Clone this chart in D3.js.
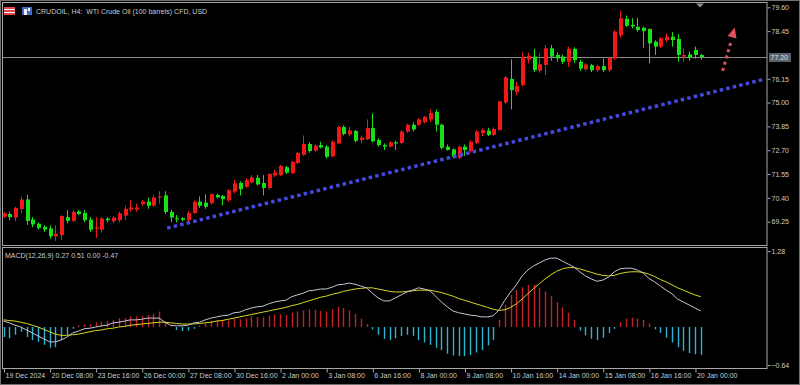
<!DOCTYPE html>
<html>
<head>
<meta charset="utf-8">
<script src="https://cdn.jsdelivr.net/npm/d3@7"></script>
<style>
  html, body { margin: 0; padding: 0; background: #000; }
  svg { display: block; }
  text { font-family: "Liberation Sans", Arial, sans-serif; white-space: pre; }
</style>
</head>
<body>
<svg id="chart" width="800" height="385"></svg>
<script>
// ---- data ----
const title = "CRUDOIL, H4:  WTI Crude Oil (100 barrels) CFD, USD"
const macdTitle = "MACD(12,26,9) 0.27 0.51 0.00 -0.47"

const opens = [69.49,69.62,69.45,69.86,70.32,69.35,69.15,69.00,68.92,68.54,
  68.60,69.47,69.29,69.74,69.67,69.35,68.92,68.86,69.40,69.27,
  69.32,69.54,69.84,69.84,70.10,70.22,70.02,70.42,70.52,69.72,
  69.42,69.42,69.32,69.67,70.22,70.17,70.14,70.54,70.49,70.28,
  70.70,71.12,70.93,71.14,71.37,71.12,70.88,71.48,71.50,71.88,
  71.60,72.08,72.48,73.00,72.68,72.95,72.87,72.41,73.03,73.82,
  73.46,73.63,73.19,73.23,73.77,73.19,72.95,72.88,73.08,73.05,
  73.60,73.93,73.93,74.06,74.18,74.55,73.93,72.87,72.74,72.33,
  72.87,72.66,73.05,73.52,73.65,73.44,73.68,75.00,76.14,75.52,
  75.84,77.08,77.22,76.54,76.82,77.62,77.30,77.22,76.97,77.59,
  76.97,76.61,76.81,76.56,76.76,76.56,77.13,78.25,79.04,78.75,
  78.66,78.61,78.55,77.94,77.70,78.02,78.18,78.07,77.22,77.33,
  77.54,77.30]
const highs = [69.72,69.74,69.97,70.46,70.54,69.48,69.22,69.07,69.07,69.07,
  69.56,69.82,69.82,69.82,69.82,69.48,69.47,69.48,69.47,69.52,
  69.74,70.02,70.29,70.12,70.29,70.42,70.52,70.72,70.72,69.82,
  69.57,69.47,69.77,70.27,70.47,70.57,70.62,70.60,70.54,70.82,
  71.26,71.20,71.35,71.50,71.50,71.50,71.60,71.75,72.00,71.95,
  72.19,72.63,73.41,73.08,72.98,73.11,72.95,73.18,73.88,73.90,
  73.82,73.68,73.41,74.19,74.48,73.28,73.03,73.13,73.16,73.68,
  73.98,74.05,74.26,74.35,74.67,74.67,73.98,72.98,72.79,72.93,
  72.98,73.18,73.68,73.74,73.78,73.80,75.10,76.28,77.09,76.00,
  77.42,77.41,77.59,77.38,77.78,77.78,77.42,77.32,77.70,77.67,
  77.07,76.92,76.87,76.82,77.12,77.22,78.50,79.43,79.20,79.07,
  79.10,78.66,78.58,78.01,78.16,78.34,78.40,78.30,77.62,77.47,
  77.70,77.36]
const lows = [69.42,69.32,69.27,69.67,69.09,68.99,68.87,68.75,68.42,68.32,
  68.37,69.17,69.22,69.57,69.22,68.75,68.47,68.72,69.22,69.17,
  69.22,69.32,69.72,69.72,70.02,69.87,69.97,70.12,69.62,69.22,
  69.22,69.27,69.27,69.62,69.92,69.87,70.07,70.37,70.04,70.20,
  70.61,70.52,70.88,71.10,71.00,70.52,70.80,71.40,71.45,71.55,
  71.55,72.03,72.43,72.58,72.63,72.78,72.30,72.36,72.98,73.41,
  73.36,73.08,73.03,73.19,73.08,72.88,72.71,72.83,72.71,72.98,
  73.53,73.60,73.88,74.00,74.06,73.60,72.74,72.68,72.30,72.28,
  72.43,72.58,73.00,73.38,73.38,73.38,73.63,74.95,74.67,75.36,
  75.78,76.90,76.48,76.44,76.33,77.02,76.97,76.87,76.72,76.92,
  76.52,76.52,76.47,76.47,76.47,76.47,77.07,78.12,78.65,78.58,
  78.42,77.65,76.89,77.30,77.62,77.92,77.70,76.97,76.97,77.02,
  77.12,77.07]
const closes = [69.65,69.47,69.92,70.32,69.29,69.12,68.95,68.87,68.55,68.67,
  69.52,69.29,69.72,69.62,69.32,68.86,68.97,69.40,69.32,69.45,
  69.65,69.87,69.94,69.94,70.22,70.02,70.42,70.47,69.72,69.45,
  69.37,69.34,69.67,70.21,70.02,69.97,70.58,70.42,70.34,70.77,
  71.10,70.82,71.26,71.39,71.05,70.88,71.55,71.62,71.94,71.62,
  72.14,72.57,73.00,72.66,72.92,72.84,72.38,73.11,73.82,73.48,
  73.65,73.15,73.31,73.77,73.13,72.95,72.88,73.08,73.03,73.60,
  73.93,73.70,74.19,74.31,74.50,73.93,72.82,72.71,72.38,72.87,
  72.71,73.11,73.60,73.68,73.44,73.73,75.05,76.22,75.60,75.80,
  77.18,77.25,76.57,76.85,77.62,77.22,77.13,76.97,77.59,77.05,
  76.64,76.84,76.56,76.76,76.56,77.16,78.43,79.07,78.71,78.68,
  78.50,78.45,77.86,77.70,78.10,78.18,78.02,77.30,77.30,77.16,
  77.30,77.20]

const macdMain = [0.10,0.07,0.03,0.00,-0.05,-0.10,-0.15,-0.20,-0.25,-0.25,
  -0.22,-0.17,-0.10,-0.07,-0.03,-0.02,0.00,0.02,0.03,0.07,
  0.08,0.10,0.12,0.12,0.13,0.15,0.15,0.15,0.08,0.03,
  0.02,0.02,0.03,0.07,0.08,0.12,0.15,0.17,0.19,0.20,
  0.24,0.25,0.29,0.32,0.34,0.35,0.39,0.42,0.44,0.45,
  0.51,0.54,0.57,0.61,0.62,0.64,0.64,0.67,0.71,0.72,
  0.74,0.72,0.69,0.66,0.57,0.49,0.44,0.44,0.49,0.54,
  0.59,0.62,0.66,0.64,0.61,0.52,0.42,0.34,0.27,0.24,
  0.22,0.20,0.19,0.17,0.17,0.19,0.29,0.45,0.59,0.71,
  0.86,0.96,1.03,1.08,1.13,1.16,1.16,1.11,1.06,1.01,
  0.93,0.86,0.81,0.77,0.79,0.84,0.93,0.98,0.99,0.99,
  0.96,0.91,0.82,0.76,0.69,0.62,0.56,0.47,0.42,0.37,
  0.32,0.27]
const macdSignal = [0.12,0.11,0.10,0.08,0.06,0.03,0.00,-0.04,-0.08,-0.12,
  -0.14,-0.14,-0.13,-0.12,-0.10,-0.08,-0.06,-0.05,-0.03,-0.02,
  0.00,0.01,0.03,0.04,0.05,0.06,0.07,0.08,0.08,0.07,
  0.06,0.05,0.05,0.05,0.06,0.07,0.08,0.10,0.11,0.13,
  0.15,0.17,0.19,0.21,0.23,0.25,0.27,0.29,0.31,0.33,
  0.36,0.38,0.41,0.44,0.47,0.50,0.52,0.55,0.57,0.60,
  0.62,0.64,0.65,0.66,0.66,0.64,0.62,0.60,0.59,0.59,
  0.60,0.61,0.62,0.62,0.62,0.60,0.58,0.55,0.52,0.48,
  0.45,0.42,0.39,0.36,0.33,0.30,0.28,0.29,0.33,0.39,
  0.47,0.56,0.65,0.73,0.81,0.88,0.94,0.98,1.00,1.00,
  0.98,0.95,0.92,0.89,0.87,0.86,0.87,0.90,0.92,0.93,
  0.93,0.92,0.89,0.85,0.80,0.76,0.71,0.66,0.62,0.58,
  0.54,0.51]
const macdHist = [-0.17,-0.19,-0.13,-0.08,-0.17,-0.22,-0.25,-0.30,-0.35,-0.34,
  -0.22,-0.13,-0.03,0.03,0.05,0.05,0.08,0.09,0.10,0.12,
  0.15,0.15,0.18,0.18,0.19,0.20,0.22,0.26,0.10,0.02,
  -0.05,-0.07,-0.06,-0.03,0.03,0.06,0.10,0.12,0.12,0.11,
  0.14,0.13,0.15,0.18,0.17,0.16,0.19,0.21,0.22,0.20,
  0.24,0.26,0.28,0.30,0.29,0.27,0.26,0.30,0.34,0.32,
  0.28,0.22,0.14,0.05,-0.04,-0.13,-0.20,-0.22,-0.19,-0.15,
  -0.13,-0.15,-0.22,-0.26,-0.30,-0.35,-0.39,-0.45,-0.48,-0.49,
  -0.49,-0.47,-0.43,-0.39,-0.31,-0.22,0.12,0.37,0.54,0.62,
  0.67,0.71,0.71,0.66,0.60,0.52,0.42,0.33,0.24,0.12,
  -0.06,-0.14,-0.20,-0.22,-0.18,-0.10,-0.03,0.08,0.14,0.16,
  0.14,0.12,0.06,-0.04,-0.10,-0.18,-0.26,-0.34,-0.40,-0.44,
  -0.46,-0.47]

const priceTicks = [79.60, 78.45, 76.15, 75.00, 73.85, 72.70, 71.55, 70.40, 69.25]
const macdTicks = [1.28, -0.64]
const timeTickBars = [0, 8, 16, 24, 32, 40, 48, 56, 64, 72, 80, 88, 96, 104, 112, 120]
const timeLabels = ["19 Dec 2024", "20 Dec 08:00", "23 Dec 16:00", "26 Dec 00:00", "27 Dec 08:00",
  "30 Dec 16:00", "2 Jan 00:00", "3 Jan 08:00", "6 Jan 16:00", "8 Jan 00:00", "9 Jan 08:00",
  "10 Jan 16:00", "14 Jan 00:00", "15 Jan 08:00", "16 Jan 16:00", "20 Jan 00:00"]
const lastPrice = 77.20
// drawn objects: support line and arrow, as (bar, price) anchors
const trendPoints = [[28.4, 68.94], [132.2, 76.14]]
const arrowPoints = [[124.8, 76.53], [126.3, 77.99], [126.9, 78.62]]

// ---- layout ----
const width = 800, height = 385
const axisX = 767
const upColor = "#f01818", downColor = "#18e018"
const textColor = "#cccccc"
const fontSize = "7px"

const svg = d3.select("#chart")
svg.append("rect").attr("width", width).attr("height", height).attr("fill", "#000")

const x = d3.scaleLinear().domain([0, 132.5]).range([3.5, axisX])
const y = d3.scaleLinear().domain([68.10, 79.60]).range([245.5, 7.3])
const ym = d3.scaleLinear().domain([-0.64, 1.28]).range([365, 251])

const bars = opens.map((o, i) => ({ i: i, o: o, h: highs[i], l: lows[i], c: closes[i] }))

// clip for the two panels
svg.append("clipPath").attr("id", "mainClip").append("rect")
  .attr("x", 3).attr("y", 3).attr("width", axisX - 3).attr("height", 242)
svg.append("clipPath").attr("id", "macdClip").append("rect")
  .attr("x", 3).attr("y", 248).attr("width", axisX - 3).attr("height", 120)

const main = svg.append("g").attr("clip-path", "url(#mainClip)")

// current price line
main.append("line")
  .attr("x1", 3).attr("x2", axisX)
  .attr("y1", Math.round(y(lastPrice)) + 0.5).attr("y2", Math.round(y(lastPrice)) + 0.5)
  .attr("stroke", "#8a8a8a").attr("stroke-width", 1)

// candles
const candle = main.append("g").attr("class", "candles")
  .selectAll("g")
  .data(bars)
  .join("g")
  .attr("fill", d => d.c >= d.o ? upColor : downColor)
  .attr("stroke", d => d.c >= d.o ? upColor : downColor)

candle.append("line")
  .attr("x1", d => Math.round(x(d.i)) + 0.5)
  .attr("x2", d => Math.round(x(d.i)) + 0.5)
  .attr("y1", d => y(d.h))
  .attr("y2", d => y(d.l))
  .attr("stroke-width", 1)

candle.append("rect")
  .attr("x", d => Math.round(x(d.i)) - 1)
  .attr("width", 4)
  .attr("y", d => y(Math.max(d.o, d.c)))
  .attr("height", d => Math.max(1.2, Math.abs(y(d.o) - y(d.c))))
  .attr("stroke", "none")

// support line (dotted blue)
main.append("line")
  .attr("x1", x(trendPoints[0][0])).attr("y1", y(trendPoints[0][1]))
  .attr("x2", x(trendPoints[1][0])).attr("y2", y(trendPoints[1][1]))
  .attr("stroke", "#4848e0").attr("stroke-width", 3.5)
  .attr("stroke-dasharray", "3.5 3.2")

// red dotted arrow
const a0 = [x(arrowPoints[0][0]), y(arrowPoints[0][1])]
const a1 = [x(arrowPoints[1][0]), y(arrowPoints[1][1])]
const tip = [x(arrowPoints[2][0]), y(arrowPoints[2][1])]
main.append("line")
  .attr("x1", a0[0]).attr("y1", a0[1]).attr("x2", a1[0]).attr("y2", a1[1])
  .attr("stroke", "#e0505e").attr("stroke-width", 3)
  .attr("stroke-dasharray", "3 3.5")
var dx = tip[0] - a0[0], dy = tip[1] - a0[1]
var len = Math.sqrt(dx * dx + dy * dy)
dx = dx / len; dy = dy / len
const base = [tip[0] - 10 * dx, tip[1] - 10 * dy]
main.append("path")
  .attr("d", "M" + tip + "L" + [base[0] - 4.6 * dy, base[1] + 4.6 * dx] + "L" + [base[0] + 4.6 * dy, base[1] - 4.6 * dx] + "Z")
  .attr("fill", "#e0505e")

// ---- MACD panel ----
const macd = svg.append("g").attr("clip-path", "url(#macdClip)")

macd.append("g").selectAll("line")
  .data(macdHist.map((v, i) => ({ i: i, v: v })))
  .join("line")
  .attr("x1", d => Math.round(x(d.i)) + 0.5)
  .attr("x2", d => Math.round(x(d.i)) + 0.5)
  .attr("y1", ym(0))
  .attr("y2", d => ym(d.v))
  .attr("stroke", d => d.v >= 0 ? "#c42028" : "#2cb4d2")
  .attr("stroke-width", 1.4)

const macdLine = d3.line().x((d, i) => x(i)).y(d => ym(d))
macd.append("path").datum(macdSignal)
  .attr("d", macdLine).attr("fill", "none")
  .attr("stroke", "#d8d820").attr("stroke-width", 1)
macd.append("path").datum(macdMain)
  .attr("d", macdLine).attr("fill", "none")
  .attr("stroke", "#c8c4d8").attr("stroke-width", 1)

// ---- frames ----
svg.append("rect").attr("x", 0.5).attr("y", 0.5).attr("width", width - 1).attr("height", height - 1)
  .attr("fill", "none").attr("stroke", "#707070")
svg.append("rect").attr("x", 2.5).attr("y", 2.5).attr("width", axisX - 2.5).attr("height", 243)
  .attr("fill", "none").attr("stroke", "#a8a8a8")
svg.append("rect").attr("x", 2.5).attr("y", 247.5).attr("width", axisX - 2.5).attr("height", 121)
  .attr("fill", "none").attr("stroke", "#a8a8a8")

// shift marker
svg.append("path").attr("d", "M696,3.5L704,3.5L700,7.5Z").attr("fill", "#8c8c8c")

// ---- axes ----
const priceAxis = svg.append("g")
  .attr("transform", "translate(" + (axisX + 0.5) + ",0)")
  .call(d3.axisRight(y).tickValues(priceTicks).tickSize(3).tickPadding(1).tickFormat(d3.format(".2f")))
const macdAxis = svg.append("g")
  .attr("transform", "translate(" + (axisX + 0.5) + ",0)")
  .call(d3.axisRight(ym).tickValues(macdTicks).tickSize(3).tickPadding(1).tickFormat(d3.format(".2f")))
const timeAxis = svg.append("g")
  .attr("transform", "translate(0," + 368.5 + ")")
  .call(d3.axisBottom(x).tickValues(timeTickBars).tickSize(4).tickPadding(2)
    .tickFormat((d, i) => timeLabels[i]))

for (const ax of [priceAxis, macdAxis, timeAxis]) {
  ax.select(".domain").remove()
  ax.selectAll(".tick line").attr("stroke", "#a8a8a8")
  ax.selectAll(".tick text")
    .attr("fill", textColor)
    .style("font-size", fontSize)
    .style("font-family", "'Liberation Sans', Arial, sans-serif")
}
timeAxis.selectAll(".tick line").attr("transform", "translate(0.5,0)")
timeAxis.selectAll(".tick text").attr("text-anchor", "start").attr("dx", 1.5).attr("dy", "0.5em")

// current price label
const py = Math.round(y(lastPrice))
svg.append("rect").attr("x", axisX + 2).attr("y", py - 4).attr("width", 22).attr("height", 9)
  .attr("fill", "#5a636c")
svg.append("text").attr("x", axisX + 3.5).attr("y", py + 2.5)
  .attr("fill", "#dde2e8").style("font-size", fontSize)
  .text(d3.format(".2f")(lastPrice))

// ---- titles ----
svg.append("rect").attr("x", 4).attr("y", 7).attr("width", 11).attr("height", 8).attr("fill", "#f4f4f4")
svg.append("rect").attr("x", 4).attr("y", 7).attr("width", 11).attr("height", 2).attr("fill", "#e0484c")
svg.append("rect").attr("x", 4).attr("y", 10).attr("width", 11).attr("height", 2).attr("fill", "#e0484c")
svg.append("rect").attr("x", 4).attr("y", 13).attr("width", 11).attr("height", 2).attr("fill", "#e0484c")
svg.append("rect").attr("x", 22).attr("y", 7).attr("width", 10).attr("height", 8).attr("fill", "#3a6cc8")
svg.append("rect").attr("x", 24).attr("y", 9).attr("width", 3).attr("height", 6).attr("fill", "#f0f0f0")
svg.append("rect").attr("x", 28).attr("y", 8).attr("width", 2).attr("height", 3).attr("fill", "#f0f0f0")

svg.append("text").attr("x", 36).attr("y", 13.5)
  .attr("fill", textColor).style("font-size", fontSize)
  .text(title)
svg.append("text").attr("x", 5).attr("y", 258)
  .attr("fill", textColor).style("font-size", fontSize)
  .text(macdTitle)
</script>
</body>
</html>
